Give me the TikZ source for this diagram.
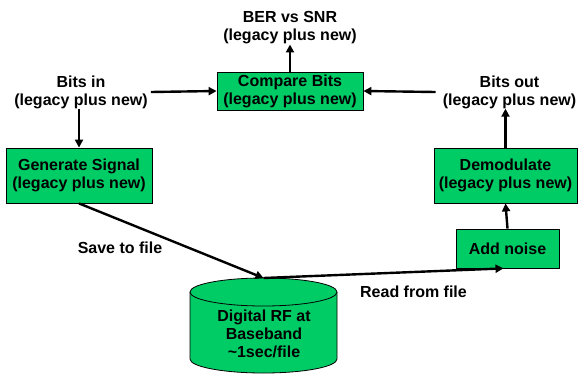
\documentclass[tikz,border=0pt]{standalone}
\usepackage{fontspec}
\setmainfont{Liberation Sans}
\usetikzlibrary{arrows.meta}
\definecolor{boxgreen}{RGB}{0,204,102}
\tikzset{
	blk/.style={draw=black, line width=0.8pt, fill=boxgreen, inner sep=0pt, align=center},
	lbl/.style={align=center, inner sep=0pt},
	flow/.style={line width=2.4pt, -{Triangle[length=8pt,width=8pt]}}
}

\begin{document}
\begin{tikzpicture}[x=1pt, y=-1pt, font=\fontsize{16}{18}\selectfont\bfseries]
			%%%%% START %%%%%
			\useasboundingbox (0, 0) rectangle (579, 373);
			
			% storage drum
			\fill[boxgreen] (190, 292) -- (190, 359) arc (180:0:73.5 and 14) -- (337, 292) -- cycle;
			\draw[line width=0.8pt] (190, 292) -- (190, 359) arc (180:0:73.5 and 14) -- (337, 292);
			\draw[line width=0.8pt, fill=boxgreen] (263.5, 292) ellipse (73.5 and 14);
			\node[lbl] (store) at (264, 334) {Digital RF at\\Baseband\\\textasciitilde 1sec/file};
			\coordinate (disktop) at (263.5, 278);
			
			% boxes
			\node[blk, minimum width=146, minimum height=38] (cmp) at (290, 91) {Compare Bits\\(legacy plus new)};
			\node[blk, minimum width=146, minimum height=55] (gen) at (79, 175.5) {Generate Signal\\(legacy plus new)};
			\node[blk, minimum width=143, minimum height=55] (demod) at (505.5, 175.5) {Demodulate\\(legacy plus new)};
			\node[blk, minimum width=103, minimum height=39] (noise) at (507.5, 248.5) {Add noise};
			
			% free labels
			\node[lbl] (ber) at (290, 28) {BER vs SNR\\(legacy plus new)};
			\node[lbl] (bin) at (81, 92) {Bits in\\(legacy plus new)};
			\node[lbl] (bout) at (509.5, 92) {Bits out\\(legacy plus new)};
			\node[lbl] (save) at (120, 248) {Save to file};
			\node[lbl] (read) at (413.5, 291.5) {Read from file};
			
			% flows
			\draw[flow] (cmp.north) -- (ber.south);
			\draw[flow] ([xshift=3pt]bin.east) -- (cmp.west);
			\draw[flow] ([xshift=-7pt]bout.west) -- (cmp.east);
			\draw[flow] (bin.south -| gen.north) -- (gen.north);
			\draw[flow] (demod.north) -- (demod.north |- bout.south);
			\draw[flow] (noise.north) -- (demod.south);
			\draw[flow] (gen.south) -- (disktop);
			\draw[flow] (disktop) -- ([xshift=-4pt]noise.south);
			
			%%%%% END %%%%%
\end{tikzpicture}
\end{document}
